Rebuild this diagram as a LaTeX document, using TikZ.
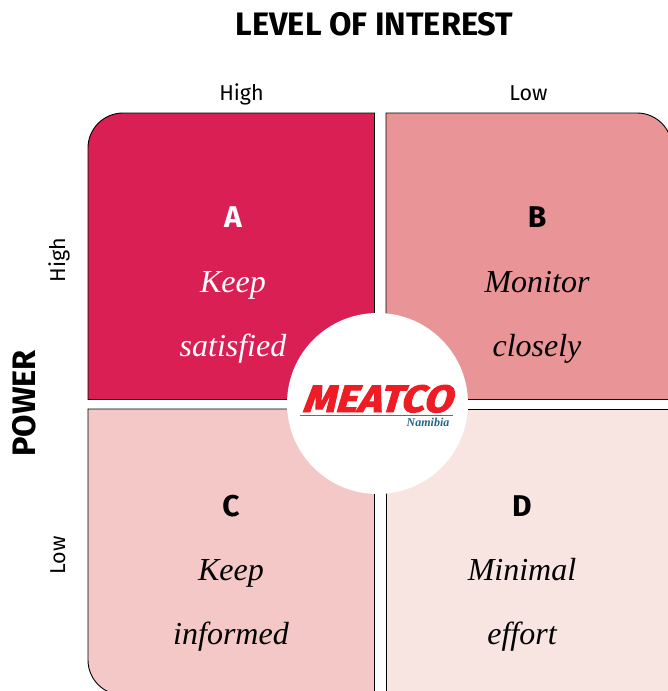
\documentclass[tikz,border=0pt]{standalone}
\usepackage{fontspec}
\setmainfont{Liberation Serif}
\setsansfont{Fira Sans}
\newfontfamily\logofont[BoldFeatures={FakeBold=2.5}]{Fira Sans}
\definecolor{qa}{HTML}{DA1F55}
\definecolor{qb}{HTML}{E99597}
\definecolor{qc}{HTML}{F4C8C6}
\definecolor{qd}{HTML}{F8E4E1}
\definecolor{mred}{HTML}{EE1C25}
\definecolor{mblue}{HTML}{2E7DA8}
\tikzset{
  quad/.style={draw=black,line width=0.9pt},
  head/.style={font=\sffamily\bfseries\fontsize{32.5}{36}\selectfont,inner sep=0pt,anchor=base},
  axis/.style={font=\sffamily\fontsize{21.5}{24}\selectfont,inner sep=0pt,anchor=base},
  letter/.style={font=\sffamily\bfseries\fontsize{30}{32}\selectfont,inner sep=0pt,anchor=base},
  phrase/.style={font=\itshape\fontsize{32}{36}\selectfont,inner sep=0pt,anchor=base},
}
\begin{document}
\begin{tikzpicture}[x=1pt,y=-1pt]
\useasboundingbox (0,0) rectangle (668,691);
\begin{scope}
\clip (0,0) rectangle (668,691);
\draw[quad,fill=qa] (374.5,399.5) -- (88,399.5) -- (88,148) arc[start angle=180,end angle=90,x radius=35,y radius=-35] -- (374.5,113) -- cycle;
\draw[quad,fill=qb] (386,399.5) -- (386,113) -- (637,113) arc[start angle=90,end angle=0,x radius=35,y radius=-35] -- (672,399.5) -- cycle;
\draw[quad,fill=qc] (374.5,409) -- (88,409) -- (88,660) arc[start angle=180,end angle=270,x radius=35,y radius=-35] -- (374.5,695) -- cycle;
\draw[quad,fill=qd] (386,409) -- (672,409) -- (672,695) -- (386,695) -- cycle;
\end{scope}
\node[head] (title) at (374.5,35) {LEVEL OF INTEREST};
\node[head,rotate=90] (power) at (35,403.5) {POWER};
\node[axis] (ihigh) at (241.5,100) {High};
\node[axis] (ilow) at (528.5,100) {Low};
\node[axis,rotate=90] (phigh) at (65,260) {High};
\node[axis,rotate=90] (plow) at (65,555.5) {Low};
\node[letter,text=white] (la) at (233,227.5) {A};
\node[phrase,text=white] (ta1) at (233,292) {Keep};
\node[phrase,text=white] (ta2) at (233,356) {satisfied};
\node[letter] (lb) at (537,227.5) {B};
\node[phrase] (tb1) at (537,292) {Monitor};
\node[phrase] (tb2) at (537,356) {closely};
\node[letter] (lc) at (231,516) {C};
\node[phrase] (tc1) at (231,580) {Keep};
\node[phrase] (tc2) at (231,644) {informed};
\node[letter] (ld) at (522,516) {D};
\node[phrase] (td1) at (522,580) {Minimal};
\node[phrase] (td2) at (522,644) {effort};
\fill[white] (377.5,403.5) circle[radius=90.5];
\node[inner sep=0pt,anchor=base,text=mred,font=\logofont\bfseries\fontsize{38}{40}\selectfont,xslant=0.3,xscale=1.09] (logo) at (376.5,412) {MEATCO};
\fill[mblue] (300,415) rectangle (453,416);
\node[inner sep=0pt,anchor=base,text=mblue!80!black,font=\itshape\bfseries\fontsize{12}{13}\selectfont] (nam) at (428,426) {Namibia};
\end{tikzpicture}
\end{document}
